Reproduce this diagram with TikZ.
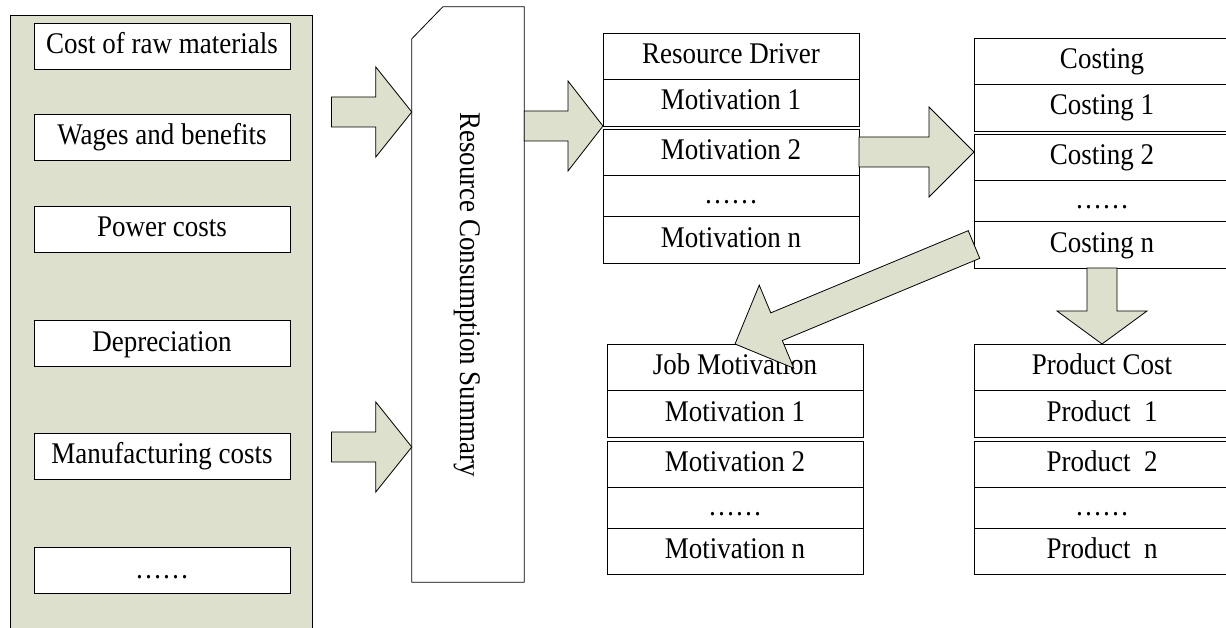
\documentclass[tikz,border=0pt]{standalone}
\usepackage{fontspec}
\setmainfont[FakeStretch=0.9]{Liberation Serif}
\usetikzlibrary{positioning}
\usetikzlibrary{calc}
\definecolor{panelgreen}{RGB}{220,224,204}
\def\fatarrow#1#2#3{%
  \path (#1) coordinate (fa-t) (#2) coordinate (fa-p);
  \path ($(fa-p)!#3!(fa-t)$) coordinate (fa-h);
  \draw[blockarrow] ($(fa-t)!15bp!90:(fa-p)$) -- ($(fa-h)!15bp!90:(fa-p)$)
    -- ($(fa-h)!45bp!90:(fa-p)$) -- (fa-p) -- ($(fa-h)!45bp!-90:(fa-p)$)
    -- ($(fa-h)!15bp!-90:(fa-p)$) -- ($(fa-t)!15bp!-90:(fa-p)$) -- cycle;
}

\begin{document}
\begin{tikzpicture}[x=1bp, y=-1bp,
    txt/.style={font=\fontsize{30bp}{36bp}\selectfont, text height=20bp, text depth=5bp},
    panelbox/.style={draw, line width=0.8bp, fill=panelgreen, minimum width=302bp, minimum height=625bp, inner sep=0pt},
    itembox/.style={txt, draw, line width=0.8bp, fill=white, minimum width=256bp, minimum height=46bp, inner sep=0pt},
    cellbox/.style={txt, draw, line width=0.8bp, fill=white, minimum width=256bp, minimum height=46bp, inner sep=0pt, outer sep=0pt},
    dotbox/.style={cellbox, minimum height=41bp},
    blockarrow/.style={draw, line width=0.8bp, fill=panelgreen, line join=miter}]
    \useasboundingbox (0,0) rectangle (1226,628);
    \clip (0,0) rectangle (1226,628);

    % cost items
    \node[panelbox] (panel) at (161,327.5) {};
    \node[itembox] (raw) at (162,46) {Cost of raw materials};
    \node[itembox] (wage) at (162,137) {Wages and benefits};
    \node[itembox] (power) at (162,229) {Power costs};
    \node[itembox] (depr) at (162,343.5) {Depreciation};
    \node[itembox] (manu) at (162,456) {Manufacturing costs};
    \node[itembox] (more) at (162,570.5) {……};

    % summary
    \node[minimum width=112bp, minimum height=575bp, inner sep=0pt] (sum) at (468,294.5) {};
    \draw[line width=0.8bp] (sum.south west) -- ($(sum.north west)+(0,32)$)
        -- ($(sum.north west)+(31,0)$) -- (sum.north east) -- (sum.south east) -- cycle;
    \node[txt, rotate=-90] (sumlabel) at (sum) {Resource Consumption Summary};

    % resource driver
    \node[cellbox] (rd0) at (731,56) {Resource Driver};
    \node[cellbox, below=0pt of rd0, minimum height=47bp] (rd1) {Motivation 1};
    \node[cellbox, below=3bp of rd1] (rd2) {Motivation 2};
    \node[dotbox, below=0pt of rd2] (rd3) {……};
    \node[cellbox, below=0pt of rd3, minimum height=47bp] (rd4) {Motivation n};

    % costing
    \node[cellbox] (ct0) at (1102,61) {Costing};
    \node[cellbox, below=0pt of ct0, minimum height=47bp] (ct1) {Costing 1};
    \node[cellbox, below=3bp of ct1] (ct2) {Costing 2};
    \node[dotbox, below=0pt of ct2] (ct3) {……};
    \node[cellbox, below=0pt of ct3, minimum height=47bp] (ct4) {Costing n};

    % job motivation
    \node[cellbox] (jm0) at (735,367) {Job Motivation};
    \node[cellbox, below=0pt of jm0, minimum height=47bp] (jm1) {Motivation 1};
    \node[cellbox, below=4bp of jm1] (jm2) {Motivation 2};
    \node[dotbox, below=0pt of jm2] (jm3) {……};
    \node[cellbox, below=0pt of jm3] (jm4) {Motivation n};

    % product cost
    \node[cellbox] (pc0) at (1102,367) {Product Cost};
    \node[cellbox, below=0pt of pc0, minimum height=47bp] (pc1) {Product~~1};
    \node[cellbox, below=4bp of pc1] (pc2) {Product~~2};
    \node[dotbox, below=0pt of pc2] (pc3) {……};
    \node[cellbox, below=0pt of pc3] (pc4) {Product~~n};

    % arrows
    \fatarrow{$(panel.east |- 0,112)+(19,0)$}{sum.west |- 0,112}{36bp}
    \fatarrow{$(panel.east |- 0,447)+(19,0)$}{sum.west |- 0,447}{36bp}
    \fatarrow{sum.east |- rd1.south west}{rd1.south west}{35bp}
    \fatarrow{rd2.east}{ct2.west |- rd2.east}{45bp}
    \fatarrow{ct4.west}{jm0.north}{45bp}
    \fatarrow{ct4.south}{pc0.north}{33bp}
\end{tikzpicture}
\end{document}
